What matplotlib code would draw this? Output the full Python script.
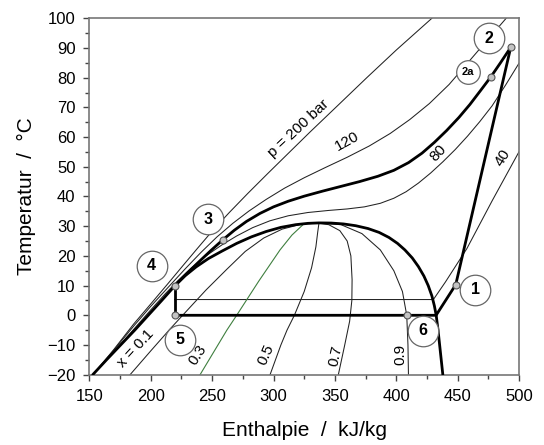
import matplotlib
matplotlib.use("Agg")
import matplotlib.pyplot as plt
from matplotlib.ticker import MultipleLocator

plt.rcParams['font.family'] = ['Liberation Sans', 'DejaVu Sans']

# ---------------- data (enthalpy kJ/kg, temperature °C) ----------------
dome_h = [152.8, 164, 175.5, 187, 198, 209, 219.8, 228, 237, 247, 258, 270, 282, 294, 306,
          318, 328, 337, 347, 357, 367, 377, 386, 394, 401, 407, 413, 418, 422.5, 426,
          429, 431, 432.5, 434, 435.3, 436.6, 437.9]
dome_T = [-20, -15, -10, -5, 0, 5, 10, 13.3, 16.3, 19.1, 21.6, 24.2, 26.4, 28.2, 29.6,
          30.5, 30.95, 31.1, 31.05, 30.75, 30.15, 29.2, 27.9, 26.2, 24.2, 22, 19.3, 16.4,
          13.2, 10, 6.5, 3.2, 0, -5, -10, -15, -20]

p200_h = [153, 170, 186, 200, 213.5, 226, 238, 251, 264, 279, 295, 312, 330, 350, 376, 400, 429]
p200_T = [-20, -11.5, -3, 3.8, 10.4, 16.6, 22.5, 28.8, 34.6, 41, 47.6, 54.5, 61.8, 69.7, 80, 89.3, 100]

p120_h = [153, 170, 186, 200, 215.5, 228, 241, 254, 267, 280, 294, 309, 325, 342, 360, 378,
          395, 411, 427, 443, 458, 474, 489.5]
p120_T = [-20, -11.7, -3.7, 3, 10, 15.6, 21.2, 26.4, 31, 35.1, 39, 42.8, 46.3, 49.7, 53.2,
          57, 61.2, 65.9, 71.3, 77.7, 84.9, 92.6, 100]

p80_h = [153, 170, 186, 200, 212, 222, 233, 245, 258, 270, 283, 297, 312, 328, 345, 360, 374,
         387, 398, 408, 418, 428, 438, 448, 458, 468, 478, 489, 500]
p80_T = [-20, -12.3, -4.8, 1.8, 7.3, 11.6, 15.9, 20, 23.7, 26.7, 29.5, 31.8, 33.5, 34.6, 35.3,
         35.8, 36.5, 37.7, 39.4, 41.6, 44.5, 47.9, 51.7, 55.8, 60.3, 65.2, 70.5, 77.5, 84.9]

p40_h = [219.5, 430.2, 440, 457.4, 478, 500.8]
p40_T = [5.3, 5.3, 11.2, 22.4, 38.5, 55.7]

x01_h = [183.2, 200, 216, 226, 245, 262, 277, 292, 307, 322, 337]
x01_T = [-20, -12, -4.5, 0, 8.5, 15.5, 21.5, 26, 29, 30.6, 31.1]
x03_h = [240.2, 262, 270, 288, 305.3, 315, 324]
x03_T = [-20, -5, 0, 11.5, 22, 27, 30.5]
x05_h = [297.2, 306, 311, 317, 325, 331, 334.5, 336, 337]
x05_T = [-20, -10, -5, 0, 8, 16, 23, 28, 31]
x07_h = [352.8, 358, 362, 363.8, 364, 363, 360, 354, 345, 337]
x07_T = [-20, -10, -2, 5, 12, 20, 25, 28.5, 30.5, 31]
x09_h = [409.9, 409.5, 408.5, 405, 398, 387, 372, 355, 337]
x09_T = [-20, -10, 0, 8, 15, 22, 27.5, 30.5, 31]

# transcritical cycle: 1 -> 2 (compressor), 2 -> 2a -> 3 -> 4 (gas cooler),
# 4 -> 5 (throttle), 5 -> 6 -> evaporator exit -> 1
comp_h = [448.4, 493.2]
comp_T = [10.3, 90.2]
gc_h = [493.2, 485, 476.9, 468.5, 460, 451, 441, 431, 421, 410, 398, 385, 370, 355, 340, 325,
        312, 300, 289, 278, 268, 258.7, 249, 239, 229, 219.8]
gc_T = [90.2, 85.1, 80.2, 75.6, 71, 66.6, 62.2, 58.2, 54.6, 51.4, 48.8, 46.8, 45, 43.4, 41.8,
        40.1, 38.4, 36.5, 34.3, 31.6, 28.6, 25.4, 21.8, 17.9, 13.9, 10]
thr_h = [219.5, 219.5]
thr_T = [10, 0]
evap_h = [219.5, 432.4, 448.4]
evap_T = [0, 0, 10.3]

state_names = ['1', '2', '2a', '3', '4', '5', '6']
state_h = [448.4, 493.2, 476.9, 258.7, 219.8, 219.5, 409]
state_T = [10.3, 90.2, 80.2, 25.4, 10, 0, 0]
label_h = [464.2, 475.8, 458.7, 246.4, 200.8, 223.8, 422]
label_T = [8.6, 93.3, 82, 32.4, 16.7, -8.2, -5.2]

iso_texts = ['p = 200 bar', '120', '80', '40', 'x = 0.1', '0.3', '0.5', '0.7', '0.9']
iso_h = [320.5, 359.7, 434, 487, 188, 238, 293.5, 350.5, 403.3]
iso_T = [63, 58.5, 54.5, 52.9, -11.2, -13.5, -13.3, -13.6, -13.3]
iso_rot = [43, 29, 47, 58, 47, 57, 66, 78, 90]

# ---------------- figure ----------------
fig = plt.figure(figsize=(5.44, 4.45), dpi=100)
ax = fig.add_axes([0.1642, 0.158, 0.790, 0.801])

thin = dict(color='#222222', lw=0.75, zorder=2)
for h, T in [(p200_h, p200_T), (p120_h, p120_T), (p80_h, p80_T), (p40_h, p40_T),
             (x01_h, x01_T), (x05_h, x05_T), (x07_h, x07_T), (x09_h, x09_T)]:
    ax.plot(h, T, **thin)
ax.plot(x03_h, x03_T, color='#3f7f3f', lw=0.8, zorder=2)

thick = dict(color='black', lw=2.0, zorder=3, solid_joinstyle='round', solid_capstyle='round')
ax.plot(dome_h, dome_T, **thick)
ax.plot(comp_h, comp_T, **thick)
ax.plot(gc_h, gc_T, **thick)
ax.plot(thr_h, thr_T, **thick)
ax.plot(evap_h, evap_T, **thick)

# state points
ax.plot(state_h, state_T, 'o', ms=5, mfc='#c4c4c4', mec='#555555', mew=0.8, zorder=5)

# numbered circle labels
for name, h, T in zip(state_names, label_h, label_T):
    small = name == '2a'
    ax.plot([h], [T], 'o', ms=17 if small else 22, mfc='white', mec='#666666',
            mew=0.9, zorder=6)
    ax.text(h, T, name, ha='center', va='center', fontsize=8 if small else 11.5,
            fontweight='bold', zorder=7)

# isoline labels
for t, h, T, r in zip(iso_texts, iso_h, iso_T, iso_rot):
    ax.text(h, T, t, ha='center', va='center', rotation=r, fontsize=11,
            rotation_mode='anchor', zorder=4)

ax.set_xlim(150, 500)
ax.set_ylim(-20, 100)
ax.xaxis.set_major_locator(MultipleLocator(50))
ax.xaxis.set_minor_locator(MultipleLocator(25))
ax.yaxis.set_major_locator(MultipleLocator(10))
ax.yaxis.set_minor_locator(MultipleLocator(5))
ax.tick_params(which='both', direction='out', top=False, right=False,
               colors='#444444', labelcolor='black', labelsize=12, width=1)
ax.tick_params(which='major', length=4, pad=6)
ax.tick_params(which='minor', length=3)
for s in ax.spines.values():
    s.set_color('#777777')
    s.set_linewidth(1.2)

ax.set_xlabel('Enthalpie  /  kJ/kg', fontsize=15)
ax.set_ylabel('Temperatur  /  °C', fontsize=15)
ax.xaxis.set_label_coords(0.501, -0.13)
ax.yaxis.set_label_coords(-0.125, 0.5)

fig.savefig('out.png', dpi=100)
